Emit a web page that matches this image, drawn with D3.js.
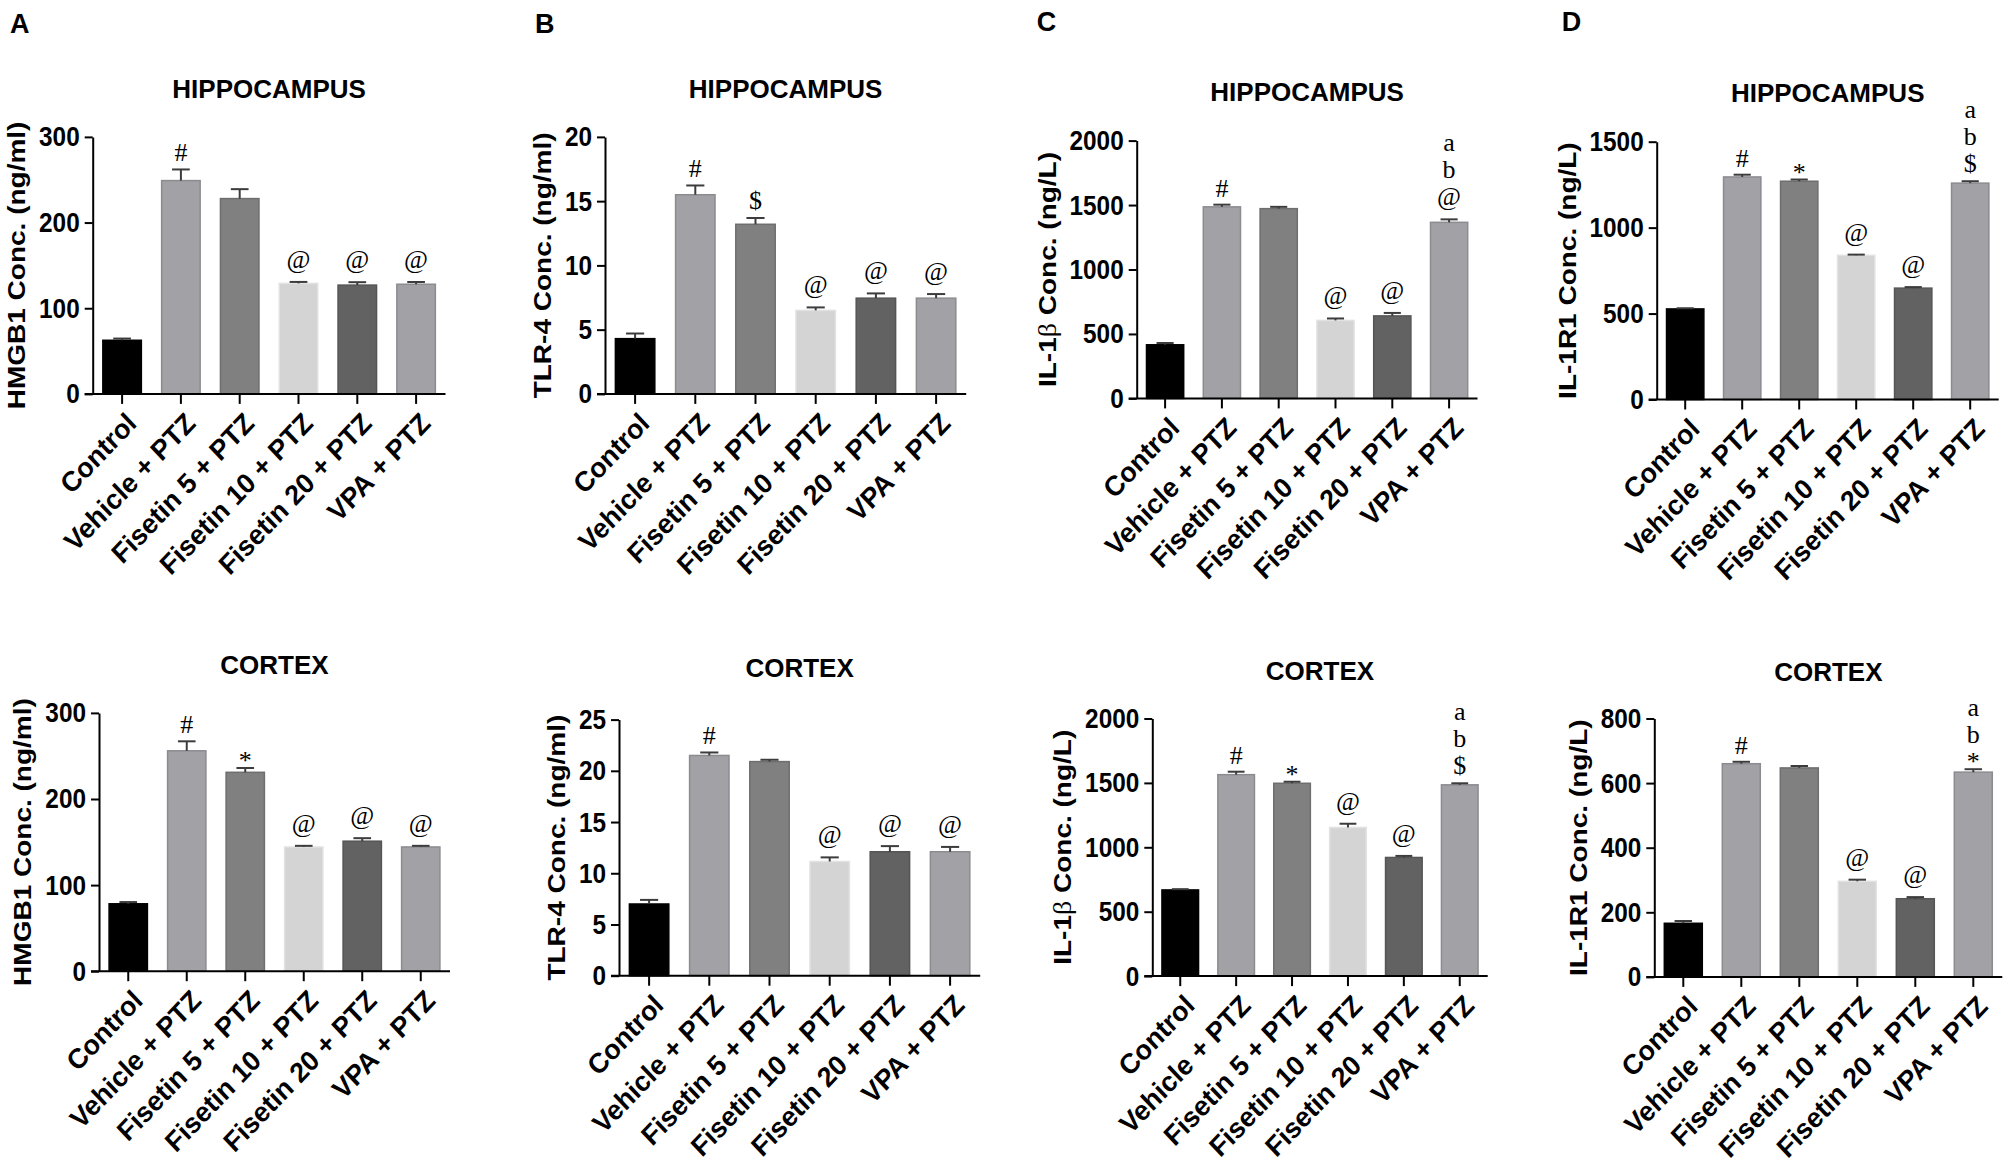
<!DOCTYPE html>
<html>
<head>
<meta charset="utf-8">
<script src="https://cdnjs.cloudflare.com/ajax/libs/d3/7.8.5/d3.min.js"></script>
<style>
  body { margin: 0; background: #fff; }
  svg text { font-family: "Liberation Sans", Arial, sans-serif; fill: #000; }
</style>
</head>
<body>
<svg id="fig" width="2008" height="1167"></svg>
<script>
// groups on the x axis (same for every panel)
const groups = ["Control", "Vehicle + PTZ", "Fisetin 5 + PTZ", "Fisetin 10 + PTZ", "Fisetin 20 + PTZ", "VPA + PTZ"];

// values: mean and upper error (SEM)
const hmgb1HippoMean = [62.6, 249, 228, 129, 127, 128];
const hmgb1HippoSem  = [2, 13, 11, 1.7, 3.4, 2.6];
const tlr4HippoMean  = [4.3, 15.5, 13.2, 6.5, 7.45, 7.45];
const tlr4HippoSem   = [0.4, 0.72, 0.49, 0.23, 0.37, 0.32];
const il1bHippoMean  = [416, 1486, 1472, 605, 640, 1366];
const il1bHippoSem   = [14, 17, 14, 15, 23, 23];
const il1r1HippoMean = [527, 1295, 1270, 839, 648, 1259];
const il1r1HippoSem  = [4, 13, 10, 4, 6, 11];

const hmgb1CortexMean = [78.3, 256, 231, 144.3, 151, 144.3];
const hmgb1CortexSem  = [2, 11, 5, 1.3, 3.5, 1.3];
const tlr4CortexMean  = [7.0, 21.5, 20.9, 11.15, 12.1, 12.1];
const tlr4CortexSem   = [0.4, 0.29, 0.18, 0.4, 0.55, 0.47];
const il1bCortexMean  = [669, 1564, 1497, 1154, 921, 1485];
const il1bCortexSem   = [6, 23, 12, 29, 12, 12];
const il1r1CortexMean = [166, 660, 647, 296, 242, 634];
const il1r1CortexSem  = [7, 6, 6, 5, 5, 9];

// y tick labels
const hmgb1Ticks       = [0, 100, 200, 300];
const tlr4HippoTicks   = [0, 5, 10, 15, 20];
const tlr4CortexTicks  = [0, 5, 10, 15, 20, 25];
const il1bTicks        = [0, 500, 1000, 1500, 2000];
const il1r1HippoTicks  = [0, 500, 1000, 1500];
const il1r1CortexTicks = [0, 200, 400, 600, 800];

// significance marks above each bar (bottom to top)
const hmgb1HippoMarks  = [[], ["#"], [], ["@"], ["@"], ["@"]];
const tlr4HippoMarks   = [[], ["#"], ["$"], ["@"], ["@"], ["@"]];
const il1bHippoMarks   = [[], ["#"], [], ["@"], ["@"], ["@", "b", "a"]];
const il1r1HippoMarks  = [[], ["#"], ["*"], ["@"], ["@"], ["$", "b", "a"]];
const hmgb1CortexMarks = [[], ["#"], ["*"], ["@"], ["@"], ["@"]];
const tlr4CortexMarks  = [[], ["#"], [], ["@"], ["@"], ["@"]];
const il1bCortexMarks  = [[], ["#"], ["*"], ["@"], ["@"], ["$", "b", "a"]];
const il1r1CortexMarks = [[], ["#"], [], ["@"], ["@"], ["*", "b", "a"]];

const barFill = ["#000000", "#a2a1a6", "#808080", "#d4d4d4", "#626262", "#a2a1a6"];
const barEdge = ["#000000", "#8c8b90", "#6e6e6e", "#e2e2e2", "#555555", "#8c8b90"];

const panels = [
  {letter: "A", region: "HIPPOCAMPUS", ylabel: "HMGB1 Conc. (ng/ml)", mean: hmgb1HippoMean, sem: hmgb1HippoSem, ticks: hmgb1Ticks, marks: hmgb1HippoMarks},
  {letter: "B", region: "HIPPOCAMPUS", ylabel: "TLR-4 Conc. (ng/ml)", mean: tlr4HippoMean, sem: tlr4HippoSem, ticks: tlr4HippoTicks, marks: tlr4HippoMarks},
  {letter: "C", region: "HIPPOCAMPUS", ylabel: "IL-1β Conc. (ng/L)", mean: il1bHippoMean, sem: il1bHippoSem, ticks: il1bTicks, marks: il1bHippoMarks},
  {letter: "D", region: "HIPPOCAMPUS", ylabel: "IL-1R1 Conc. (ng/L)", mean: il1r1HippoMean, sem: il1r1HippoSem, ticks: il1r1HippoTicks, marks: il1r1HippoMarks},
  {letter: "", region: "CORTEX", ylabel: "HMGB1 Conc. (ng/ml)", mean: hmgb1CortexMean, sem: hmgb1CortexSem, ticks: hmgb1Ticks, marks: hmgb1CortexMarks},
  {letter: "", region: "CORTEX", ylabel: "TLR-4 Conc. (ng/ml)", mean: tlr4CortexMean, sem: tlr4CortexSem, ticks: tlr4CortexTicks, marks: tlr4CortexMarks},
  {letter: "", region: "CORTEX", ylabel: "IL-1β Conc. (ng/L)", mean: il1bCortexMean, sem: il1bCortexSem, ticks: il1bTicks, marks: il1bCortexMarks},
  {letter: "", region: "CORTEX", ylabel: "IL-1R1 Conc. (ng/L)", mean: il1r1CortexMean, sem: il1r1CortexSem, ticks: il1r1CortexTicks, marks: il1r1CortexMarks}
];

// where each panel sits: y axis x, band step, top and bottom of the y axis, title baseline
const layout = [
  {ax: 92.7,   step: 58.8, top: 136.9, base: 393.9, titleY: 98,    lx: 10,     ly: 32.6},
  {ax: 605,    step: 60.2, top: 136.9, base: 393.9, titleY: 98,    lx: 535,    ly: 32.6},
  {ax: 1136.7, step: 56.8, top: 140.6, base: 398.4, titleY: 100.6, lx: 1036.7, ly: 31.4},
  {ax: 1656.7, step: 57,   top: 141.7, base: 399.5, titleY: 101.7, lx: 1561.7, ly: 31.4},
  {ax: 99,     step: 58.5, top: 712.9, base: 971.2, titleY: 673.6},
  {ax: 619,    step: 60.2, top: 719.6, base: 975.7, titleY: 677.3},
  {ax: 1152.3, step: 55.9, top: 718.5, base: 976.1, titleY: 680.3},
  {ax: 1654.3, step: 58,   top: 718.5, base: 976.9, titleY: 681.1}
];

// the source figure is a little squeezed sideways, text too
const squeeze = 0.87;
const xlSqueeze = 0.95;

// distance from error cap to baseline of the first mark
const markGap = {"#": 8, "@": 14, "$": 9, "*": -1, "a": 8, "b": 8};
const markStep = 27;

const svg = d3.select("#fig");

const drawPanel = function (p, L) {
  const g = svg.append("g");
  const xEnd = L.ax + groups.length * L.step;

  const y = d3.scaleLinear().domain([0, d3.max(p.ticks)]).range([L.base, L.top]);
  const x = d3.scaleBand().domain(groups).range([L.ax, xEnd])
    .paddingInner(0.345).paddingOuter(0.1725);
  const cx = function (d) { return x(d) + x.bandwidth() / 2; };
  const capW = x.bandwidth() * 0.46;

  // bars
  g.selectAll("rect.bar").data(groups).join("rect")
    .attr("class", "bar")
    .attr("x", function (d) { return x(d); })
    .attr("width", x.bandwidth())
    .attr("y", function (d, i) { return y(p.mean[i]); })
    .attr("height", function (d, i) { return y(0) - y(p.mean[i]); })
    .attr("fill", function (d, i) { return barFill[i]; })
    .attr("stroke", function (d, i) { return barEdge[i]; })
    .attr("stroke-width", 1.5);

  // error bars (upper half only)
  g.selectAll("line.stem").data(groups).join("line")
    .attr("class", "stem")
    .attr("x1", cx).attr("x2", cx)
    .attr("y1", function (d, i) { return y(p.mean[i]); })
    .attr("y2", function (d, i) { return y(p.mean[i] + p.sem[i]); })
    .attr("stroke", "#3c3c3c").attr("stroke-width", 2);
  g.selectAll("line.cap").data(groups).join("line")
    .attr("class", "cap")
    .attr("x1", function (d) { return cx(d) - capW / 2; })
    .attr("x2", function (d) { return cx(d) + capW / 2; })
    .attr("y1", function (d, i) { return y(p.mean[i] + p.sem[i]); })
    .attr("y2", function (d, i) { return y(p.mean[i] + p.sem[i]); })
    .attr("stroke", "#3c3c3c").attr("stroke-width", 2);

  // y axis
  const ya = g.append("g")
    .attr("transform", "translate(" + L.ax + ",0)")
    .call(d3.axisLeft(y).tickValues(p.ticks).tickFormat(d3.format("d"))
      .tickSize(8).tickSizeOuter(0));
  ya.attr("font-family", "Liberation Sans, Arial, sans-serif")
    .attr("font-size", 28).attr("font-weight", "bold");
  ya.select(".domain").attr("stroke", "#000").attr("stroke-width", 2);
  ya.selectAll(".tick line").attr("stroke", "#000").attr("stroke-width", 2);
  ya.selectAll(".tick text").attr("fill", "#000").attr("x", 0)
    .attr("transform", "translate(-13,0) scale(" + squeeze + ",1)");

  // x axis, line runs a bit past the y axis like the original
  const xa = g.append("g")
    .attr("transform", "translate(0," + L.base + ")")
    .call(d3.axisBottom(x).tickSize(10).tickSizeOuter(0).tickFormat(""));
  xa.select(".domain").attr("d", "M" + (L.ax - 8) + ",0H" + xEnd)
    .attr("stroke", "#000").attr("stroke-width", 2);
  xa.selectAll(".tick line").attr("stroke", "#000").attr("stroke-width", 2);

  // rotated group labels
  g.selectAll("text.xl").data(groups).join("text")
    .attr("class", "xl")
    .attr("transform", function (d) {
      return "translate(" + (cx(d) + 16) + "," + (L.base + 31) + ") scale(" + xlSqueeze + ",1) rotate(-45)";
    })
    .attr("text-anchor", "end")
    .attr("font-size", 28).attr("font-weight", "bold")
    .text(function (d) { return d; });

  // y label, placed left of the tick labels
  const bb = ya.node().getBBox();
  const labX = L.ax + bb.x - 14;
  const yl = g.append("text")
    .attr("transform", "translate(" + labX + "," + ((L.top + L.base) / 2) + ") scale(" + squeeze + ",1) rotate(-90)")
    .attr("text-anchor", "middle")
    .attr("font-size", 28).attr("font-weight", "bold");
  p.ylabel.split(/(β)/).forEach(function (part) {
    if (part === "") return;
    const ts = yl.append("tspan").text(part);
    if (part === "β") {
      ts.attr("font-family", "Liberation Serif, Times New Roman, serif").attr("font-weight", "normal");
    }
  });

  // title
  g.append("text")
    .attr("x", (L.ax + xEnd) / 2).attr("y", L.titleY)
    .attr("text-anchor", "middle")
    .attr("font-size", 26).attr("font-weight", "bold")
    .text(p.region);

  // panel letter
  if (p.letter) {
    g.append("text")
      .attr("x", L.lx).attr("y", L.ly)
      .attr("font-size", 27).attr("font-weight", "bold")
      .text(p.letter);
  }

  // significance marks
  p.marks.forEach(function (arr, i) {
    if (!arr.length) return;
    const b0 = y(p.mean[i] + p.sem[i]) - markGap[arr[0]];
    arr.forEach(function (s, k) {
      g.append("text")
        .attr("x", cx(groups[i])).attr("y", b0 - markStep * k)
        .attr("text-anchor", "middle")
        .style("font-family", "Liberation Serif, Times New Roman, serif")
        .attr("font-size", 26)
        .text(s);
    });
  });
};

panels.forEach(function (p, i) { drawPanel(p, layout[i]); });
</script>
</body>
</html>
